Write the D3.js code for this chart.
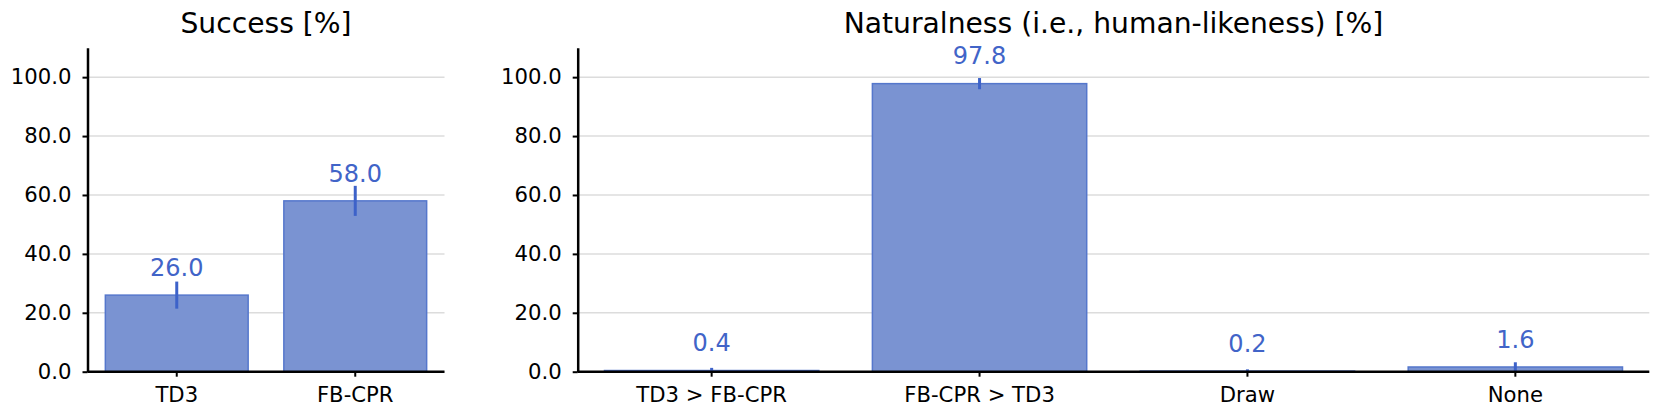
<!DOCTYPE html>
<html>
<head>
<meta charset="utf-8">
<script src="https://cdn.jsdelivr.net/npm/d3@7"></script>
<style>
  body { margin: 0; background: #fff; }
  text { font-family: "DejaVu Sans", sans-serif; }
</style>
</head>
<body>
<svg width="1661" height="418"></svg>
<script>
// values
const successCats = ["TD3", "FB-CPR"];
const successVals = [26.0, 58.0];
const successErr = [4.6, 5.1];

const natCats = ["TD3 > FB-CPR", "FB-CPR > TD3", "Draw", "None"];
const natVals = [0.4, 97.8, 0.2, 1.6];
const natErr = [0.9, 1.9, 0.6, 1.6];

const yTicks = [0, 20, 40, 60, 80, 100];

let svg = d3.select("svg");

const plotTop = 47.7, plotBottom = 371.7;
const fill = "#7a93d2", edge = "#5577cc", errColor = "#3d62c9", labelColor = "#4164c8";

let y = d3.scaleLinear().domain([0, 110]).range([plotBottom, plotTop]);

/**
* Draws one bar panel with grid, bars, error bars and value labels.
*/
function drawPanel(cats, vals, errs, left, right, title){
    let g = svg.append("g");

    let x = d3.scaleBand()
        .domain(cats)
        .range([left, right])
        .paddingInner(0.2)
        .paddingOuter(0.1);

    //grid
    g.append("g")
        .selectAll("line")
        .data(yTicks).enter().append("line")
            .attr("x1", left).attr("x2", right)
            .attr("y1", d => y(d)).attr("y2", d => y(d))
            .attr("stroke", "#dcdcdc")
            .attr("stroke-width", 1.5);

    let data = cats.map((c, i) => ({cat: c, v: vals[i], e: errs[i]}));

    g.append("g")
        .selectAll("rect")
        .data(data).enter().append("rect")
            .attr("x", d => x(d.cat))
            .attr("width", x.bandwidth())
            .attr("y", d => y(d.v))
            .attr("height", d => y(0) - y(d.v))
            .attr("fill", fill)
            .attr("stroke", edge)
            .attr("stroke-width", 1.5);

    g.append("g")
        .selectAll("line")
        .data(data).enter().append("line")
            .attr("x1", d => x(d.cat) + x.bandwidth() / 2)
            .attr("x2", d => x(d.cat) + x.bandwidth() / 2)
            .attr("y1", d => y(d.v + d.e))
            .attr("y2", d => y(Math.max(0, d.v - d.e)))
            .attr("stroke", errColor)
            .attr("stroke-width", 3);

    g.append("g")
        .selectAll("text")
        .data(data).enter().append("text")
            .attr("x", d => x(d.cat) + x.bandwidth() / 2)
            .attr("y", d => y(d.v) - 19.3)
            .attr("text-anchor", "middle")
            .attr("fill", labelColor)
            .style("font-size", "24px")
            .text(d => d.v.toFixed(1));

    //axes
    let yAxis = g.append("g")
        .attr("transform", `translate(${left},0)`)
        .call(d3.axisLeft(y).tickValues(yTicks).tickFormat(d3.format(".1f"))
            .tickSize(5).tickSizeOuter(0).tickPadding(11));

    let xAxis = g.append("g")
        .attr("transform", `translate(0,${plotBottom})`)
        .call(d3.axisBottom(x).tickSize(5).tickSizeOuter(0).tickPadding(10.3));

    [yAxis, xAxis].forEach(a => {
        a.select(".domain").attr("stroke", "#000").attr("stroke-width", 2.5);
        a.selectAll(".tick line").attr("stroke", "#000").attr("stroke-width", 2);
        a.selectAll(".tick text")
            .attr("fill", "#000")
            .style("font-size", "21.2px")
            .style("font-family", "DejaVu Sans");
    });
    xAxis.select(".domain").attr("d", `M${left},0H${right}`);

    g.append("text")
        .attr("x", (left + right) / 2)
        .attr("y", 33)
        .attr("text-anchor", "middle")
        .attr("fill", "#000")
        .style("font-size", "28.2px")
        .text(title);
}

drawPanel(successCats, successVals, successErr, 87.5, 444.5, "Success [%]");
drawPanel(natCats, natVals, natErr, 577.7, 1649.3, "Naturalness (i.e., human-likeness) [%]");
</script>
</body>
</html>
